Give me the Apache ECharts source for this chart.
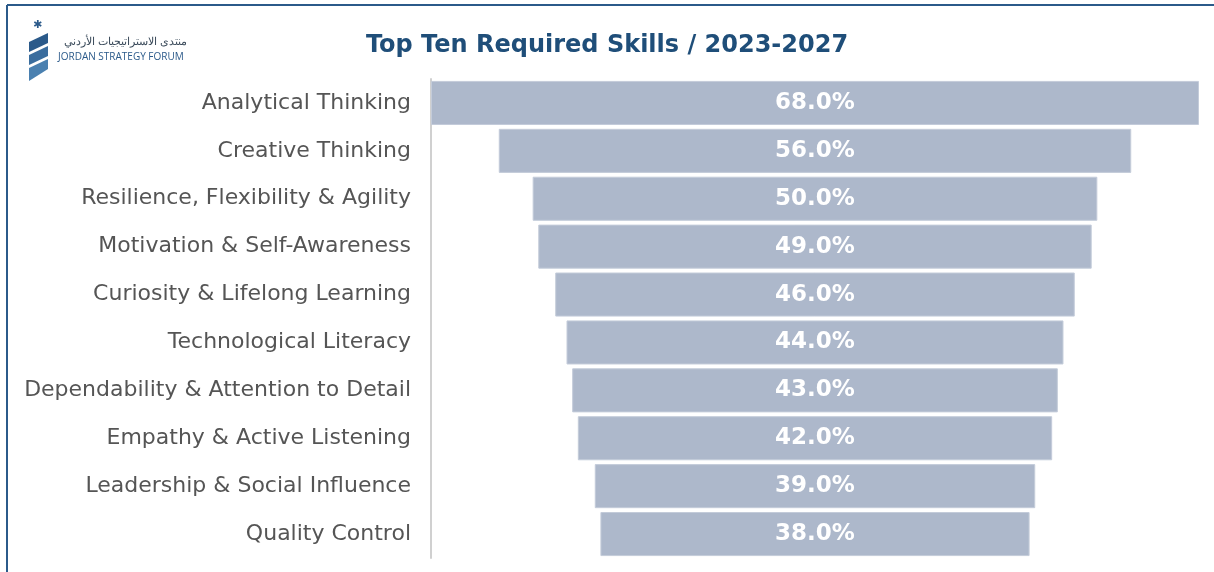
<!DOCTYPE html>
<html>
<head>
<meta charset="utf-8">
<script src="https://cdn.jsdelivr.net/npm/echarts@6/dist/echarts.min.js"></script>
<style>
  html, body { margin: 0; padding: 0; background: #fff; }
  #chart { width: 1214px; height: 572px; }
</style>
</head>
<body>
<div id="chart"></div>
<script>
const skills = [
  'Analytical Thinking',
  'Creative Thinking',
  'Resilience, Flexibility & Agility',
  'Motivation & Self-Awareness',
  'Curiosity & Lifelong Learning',
  'Technological Literacy',
  'Dependability & Attention to Detail',
  'Empathy & Active Listening',
  'Leadership & Social Influence',
  'Quality Control'
]
const shares = [68, 56, 50, 49, 46, 44, 43, 42, 39, 38]
const axisMax = 68

// transparent spacer so each bar sits centred
const spacer = shares.map(v => (axisMax - v) / 2)

const chart = echarts.init(document.getElementById('chart'))
chart.setOption({
  animation: false,
  title: {
    text: 'Top Ten Required Skills / 2023-2027',
    left: 'center',
    top: 29,
    textStyle: {
      fontFamily: 'DejaVu Sans',
      fontWeight: 'bold',
      fontSize: 24,
      color: '#1f4e79'
    }
  },
  graphic: [
    // frame lines
    { type: 'line', shape: { x1: 7, y1: 5, x2: 1214, y2: 5 }, style: { stroke: '#2b5a8a', lineWidth: 2 } },
    { type: 'line', shape: { x1: 7, y1: 5, x2: 7, y2: 572 }, style: { stroke: '#2b5a8a', lineWidth: 2 } },
    // logo
    { type: 'text', left: 33, top: 20, style: { text: '✱', fill: '#2b5a8a', font: 'bold 11px DejaVu Sans' } },
    { type: 'polygon', shape: { points: [[29, 42], [48, 33], [48, 43], [29, 52]] }, style: { fill: '#2b5a8a' } },
    { type: 'polygon', shape: { points: [[29, 55], [48, 46], [48, 56], [29, 65]] }, style: { fill: '#3a6d9e' } },
    { type: 'polygon', shape: { points: [[29, 68], [48, 59], [48, 69], [29, 81]] }, style: { fill: '#4a80b0' } },
    { type: 'text', right: 1214 - 187, top: 36, style: { text: 'منتدى الاستراتيجيات الأردني', fill: '#3a4a5a', font: '11px "Noto Sans"' } },
    { type: 'text', left: 58, top: 52, style: { text: 'JORDAN STRATEGY FORUM', fill: '#2b5a8a', font: '10px "Open Sans"' } }
  ],
  grid: { left: 431, right: 15, top: 79, bottom: 14 },
  xAxis: {
    type: 'value',
    min: 0,
    max: axisMax,
    show: false
  },
  yAxis: {
    type: 'category',
    data: skills,
    inverse: true,
    axisTick: { show: false },
    axisLine: { show: true, lineStyle: { color: '#d0d0d0', width: 2 } },
    axisLabel: {
      margin: 20,
      fontFamily: 'DejaVu Sans',
      fontSize: 22,
      color: '#555555'
    }
  },
  series: [
    {
      type: 'bar',
      stack: 'total',
      data: spacer,
      barWidth: '92%',
      itemStyle: { color: 'transparent' },
      silent: true
    },
    {
      type: 'bar',
      stack: 'total',
      data: shares,
      barWidth: '92%',
      itemStyle: { color: '#adb8cb', borderColor: '#c4ccda', borderWidth: 1 },
      label: {
        show: true,
        position: 'inside',
        formatter: p => p.value.toFixed(1) + '%',
        fontFamily: 'DejaVu Sans',
        fontWeight: 'bold',
        fontSize: 23,
        color: '#ffffff'
      }
    }
  ]
})
</script>
</body>
</html>
